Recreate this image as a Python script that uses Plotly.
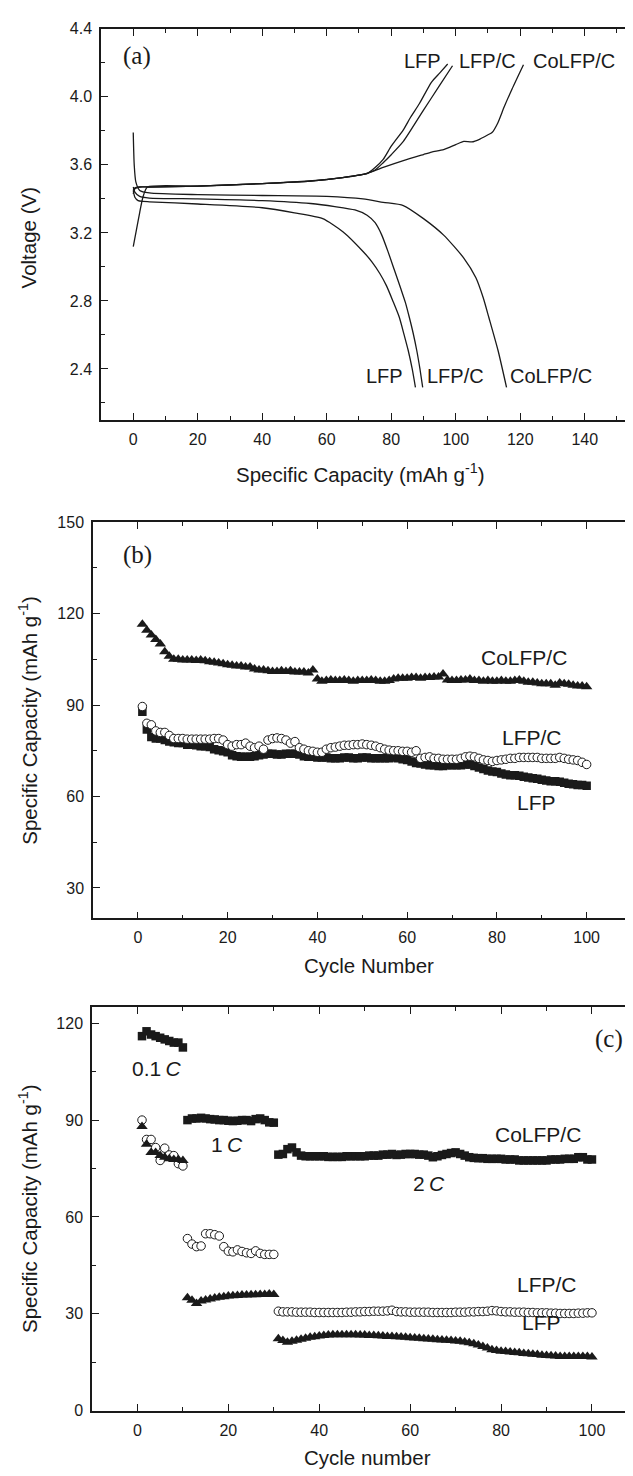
import plotly.graph_objects as go

# ---------------- Panel (a): charge / discharge curves ----------------
lfp_chg_cap = [0, 0.5, 2, 5, 20, 40, 55, 65, 70, 72.5, 75, 77.5, 80, 83.75, 86, 88.75, 92.5, 95, 97.5]
lfp_chg_v = [3.43, 3.46, 3.47, 3.47, 3.475, 3.49, 3.505, 3.525, 3.54, 3.548, 3.584, 3.632, 3.71, 3.806, 3.88, 3.961, 4.087, 4.14, 4.193]

lfpc_chg_cap = [0, 0.5, 2, 5, 20, 40, 55, 65, 70, 72.5, 75, 77.5, 80, 83.75, 90, 95, 99]
lfpc_chg_v = [3.45, 3.465, 3.47, 3.47, 3.475, 3.49, 3.505, 3.525, 3.54, 3.55, 3.57, 3.613, 3.66, 3.738, 3.922, 4.067, 4.183]

colfp_chg_cap = [0, 1, 2, 3, 4.4, 20, 40, 60, 70, 72.5, 77.5, 83.75, 90, 92.5, 96.25, 100, 102.5, 105, 107.5, 110, 111.25, 113, 115, 117.5, 121]
colfp_chg_v = [3.12, 3.22, 3.32, 3.41, 3.47, 3.475, 3.49, 3.515, 3.54, 3.55, 3.585, 3.625, 3.661, 3.675, 3.69, 3.719, 3.738, 3.735, 3.752, 3.777, 3.79, 3.845, 3.94, 4.048, 4.189]

lfp_dis_cap = [0, 0.5, 1.5, 3, 5, 20, 40, 50, 58.75, 65, 71.25, 74, 76.5, 78.5, 80.5, 82.5, 84, 85.25, 86.5, 87.5]
lfp_dis_v = [3.45, 3.41, 3.39, 3.385, 3.383, 3.37, 3.348, 3.318, 3.284, 3.207, 3.091, 3.03, 2.96, 2.89, 2.80, 2.704, 2.60, 2.51, 2.40, 2.292]

lfpc_dis_cap = [0, 0.5, 2, 5, 20, 40, 55, 62.5, 68.75, 72.5, 75, 77, 79, 81, 83, 84.4, 85.6, 86.8, 87.9, 88.9, 89.75]
lfpc_dis_v = [3.47, 3.44, 3.415, 3.405, 3.40, 3.39, 3.373, 3.355, 3.335, 3.304, 3.26, 3.19, 3.09, 2.98, 2.87, 2.79, 2.704, 2.61, 2.51, 2.40, 2.292]

colfp_dis_cap = [0, 0.3, 0.8, 2, 5, 20, 40, 60, 71.25, 77.5, 83.75, 90, 96.25, 102.5, 106.25, 108.5, 110.25, 113.1, 115.75]
colfp_dis_v = [3.79, 3.6, 3.5, 3.45, 3.435, 3.425, 3.42, 3.415, 3.40, 3.38, 3.361, 3.284, 3.187, 3.052, 2.936, 2.82, 2.704, 2.51, 2.292]

# ---------------- Panel (b): cycling at constant rate ----------------
cycles = list(range(1, 101))

b_colfp = [116.5, 114.5, 113, 111.5, 110, 107.5, 106, 105, 105, 104.8,
           104.8, 104.8, 104.6, 104.8, 104.5, 104.2, 104, 103.8, 103.5, 103.2,
           103, 102.8, 102.8, 102.5, 102.5, 101.8, 101.5, 101.5, 101.2, 101,
           101, 101.2, 101, 101.2, 100.8, 100.8, 100.8, 100.5, 101.5, 98.5,
           97.8, 98, 98.2, 98, 98, 98.2, 98, 97.8, 98, 98,
           98, 98.2, 98, 97.8, 97.8, 98, 98.5, 98.8, 98.8, 98.8,
           99, 99, 98.8, 99, 99, 99.2, 99.2, 100.2, 98.2, 98,
           98, 98.2, 98.2, 98.5, 98, 98, 97.8, 98, 97.8, 97.8,
           98, 97.8, 97.8, 98, 98.2, 97.8, 97.5, 97.5, 97.2, 97,
           97, 97, 96.5, 97.2, 97, 96.8, 96.5, 96.2, 96.2, 96]

b_lfpc = [89.5, 84, 83.5, 81.5, 81, 81, 80, 79, 79, 79,
          78.8, 78.8, 78.8, 78.8, 78.8, 78.8, 79, 79, 78.5, 77,
          76.5, 77, 77, 77.5, 76.5, 76, 76.5, 75.5, 78.5, 79,
          79.2, 79, 78.5, 77.5, 78, 76, 75.5, 75, 74.8, 74.5,
          74.5, 75.5, 76, 76.2, 76.5, 76.8, 76.8, 77, 77, 77.2,
          77, 76.8, 76.5, 76, 75.5, 75.2, 75, 75, 74.8, 74.8,
          74.5, 75, 72.5, 72.8, 73, 72.5, 72.5, 72.2, 72.2, 72.2,
          72.2, 72.5, 73, 73.2, 73, 72.5, 72, 71.8, 71.5, 71.8,
          72, 72.2, 72.5, 72.5, 72.8, 72.8, 72.8, 72.8, 72.8, 72.5,
          72.5, 72.5, 72.5, 72.8, 72.5, 72.2, 72, 71.8, 71.2, 70.5]

b_lfp = [87.8, 82, 79.5, 79, 79, 78.5, 78, 77.8, 77.5, 77.5,
         77, 77, 76.8, 76.5, 76.5, 76.2, 75.5, 75.2, 74.8, 74.5,
         73.5, 73.2, 73, 73, 73, 73.2, 73.5, 73.8, 74, 74,
         73.8, 73.8, 74, 74, 74, 73.8, 73.2, 73, 73, 72.8,
         72.8, 72.8, 72.5, 72.5, 72.5, 72.8, 72.8, 72.5, 72.5, 72.8,
         72.8, 72.5, 72.5, 72.5, 72.5, 72.5, 72.8, 72.5, 72.2, 72,
         71.5, 71, 70.8, 70.5, 70.2, 70.2, 70, 70, 70.2, 70.2,
         70.2, 70.2, 70.5, 70.5, 70, 69.5, 69, 68.5, 68.2, 68,
         67.5, 67.2, 67, 67, 66.8, 66.5, 66.2, 66, 65.8, 65.5,
         65.2, 65, 65, 64.8, 64.5, 64.2, 64, 63.8, 63.8, 63.5]

# ---------------- Panel (c): rate capability ----------------
c_colfp = [116, 117.5, 116.5, 116, 115.5, 115, 114.5, 114, 114, 112.5,
           90, 90.5, 90.5, 90.7, 90.5, 90.3, 90.2, 90, 90, 89.8,
           89.7, 89.8, 90, 90, 89.7, 90.3, 90.5, 90, 89.3, 89.2,
           79.3, 79.5, 81, 81.5, 80, 79, 78.8, 78.8, 78.8, 78.8,
           78.8, 78.6, 78.6, 78.6, 78.6, 78.8, 78.8, 78.8, 78.8, 78.8,
           79, 79, 79, 79.3, 79.3, 79.5, 79.2, 79.3, 79.5, 79.5,
           79.5, 79.3, 79.3, 79, 78.5, 78.8, 79.2, 79.5, 79.8, 80,
           79.5, 79, 78.5, 78.3, 78.2, 78.2, 78, 78, 78, 78,
           77.8, 77.8, 77.8, 77.5, 77.5, 77.5, 77.5, 77.5, 77.5, 77.5,
           77.8, 77.8, 77.8, 78, 78, 78, 78.5, 78.5, 77.8, 77.8]

c_lfpc = [90, 84, 84, 81.5, 77.5, 81.3, 79.2, 79, 76.5, 75.8,
          53.3, 51.6, 50.8, 51, 54.8, 54.8, 54.5, 54.1, 50.8, 49.4,
          49.2, 49.8, 49.3, 48.9, 48.7, 49.5, 48.7, 48.4, 48.4, 48.4,
          30.8, 30.6, 30.6, 30.6, 30.5, 30.5, 30.5, 30.5, 30.4, 30.4,
          30.4, 30.4, 30.4, 30.4, 30.4, 30.5, 30.5, 30.6, 30.6, 30.7,
          30.7, 30.8, 30.8, 30.8, 30.9, 31.1, 30.7, 30.6, 30.6, 30.5,
          30.5, 30.5, 30.5, 30.5, 30.4, 30.4, 30.4, 30.4, 30.4, 30.5,
          30.5, 30.5, 30.6, 30.6, 30.7, 30.7, 30.8, 31, 30.9, 30.7,
          30.6, 30.6, 30.5, 30.5, 30.5, 30.4, 30.4, 30.3, 30.3, 30.3,
          30.2, 30.2, 30.1, 30.1, 30.1, 30.1, 30.2, 30.2, 30.3, 30.3]

c_lfp = [88, 82.5, 80, 80, 79, 78.5, 78, 77.8, 77.8, 77.5,
         35, 34.2, 33.2, 34, 34.3, 34.6, 34.9, 35.1, 35.3, 35.5,
         35.6, 35.7, 35.8, 35.8, 35.9, 35.9, 36, 36, 36.1, 36,
         22.3, 21.7, 21.2, 21.5, 21.8, 22.1, 22.4, 22.7, 22.9, 23.1,
         23.3, 23.4, 23.5, 23.5, 23.5, 23.5, 23.5, 23.5, 23.4, 23.4,
         23.3, 23.3, 23.2, 23.1, 23, 23, 22.9, 22.8, 22.7, 22.6,
         22.5, 22.4, 22.3, 22.2, 22.1, 22, 21.9, 21.8, 21.7, 21.6,
         21.5, 21.3, 21, 20.7, 20.3, 19.9, 19.4, 18.9, 18.6, 18.4,
         18.3, 18.2, 18, 17.9, 17.7, 17.6, 17.5, 17.4, 17.2, 17.1,
         17, 16.9, 16.8, 16.8, 16.8, 16.8, 16.8, 16.8, 16.8, 16.6]

# page is offset by the default 8px body margin
PAGE_W, PAGE_H, OFF = 633, 1476, 8
W, H = PAGE_W - OFF, PAGE_H - OFF
SANS = "Liberation Sans, Arial, Helvetica, sans-serif"
SERIF = "Liberation Serif, Times New Roman, serif"
INK = "#1a1a1a"

fig = go.Figure()
line_style = dict(color=INK, width=1.3)
for cap, v in [(lfp_chg_cap, lfp_chg_v), (lfpc_chg_cap, lfpc_chg_v), (colfp_chg_cap, colfp_chg_v),
               (lfp_dis_cap, lfp_dis_v), (lfpc_dis_cap, lfpc_dis_v), (colfp_dis_cap, colfp_dis_v)]:
    fig.add_trace(go.Scatter(x=cap, y=v, mode="lines", line=dict(shape="spline", smoothing=0.6, **line_style),
                             xaxis="x", yaxis="y", showlegend=False))

sq = dict(symbol="square", size=8.5, color=INK)
tri = dict(symbol="triangle-up", size=10, color=INK)
circ = dict(symbol="circle", size=8.5, color="white", line=dict(color=INK, width=1))

fig.add_trace(go.Scatter(x=cycles, y=b_lfp, mode="markers", marker=sq, xaxis="x2", yaxis="y2", showlegend=False))
fig.add_trace(go.Scatter(x=cycles, y=b_lfpc, mode="markers", marker=circ, xaxis="x2", yaxis="y2", showlegend=False))
fig.add_trace(go.Scatter(x=cycles, y=b_colfp, mode="markers", marker=tri, xaxis="x2", yaxis="y2", showlegend=False))

fig.add_trace(go.Scatter(x=cycles, y=c_colfp, mode="markers", marker=sq, xaxis="x3", yaxis="y3", showlegend=False))
fig.add_trace(go.Scatter(x=cycles, y=c_lfpc, mode="markers", marker=circ, xaxis="x3", yaxis="y3", showlegend=False))
fig.add_trace(go.Scatter(x=cycles, y=c_lfp, mode="markers", marker=tri, xaxis="x3", yaxis="y3", showlegend=False))


def px_x(p):
    return min(1.0, (p - OFF) / W)


def px_y(p):
    return 1 - (p - OFF) / H


def axis(domain, rng, dtick, minor_dtick, anchor, fmt=None):
    d = dict(domain=domain, range=rng, dtick=dtick, tick0=0, anchor=anchor,
             showline=True, linecolor=INK, linewidth=1.5, mirror="allticks",
             ticks="inside", ticklen=7, tickwidth=1.3, tickcolor=INK,
             minor=dict(dtick=minor_dtick, tick0=0, ticks="inside", ticklen=4, tickwidth=1.2, tickcolor=INK),
             showgrid=False, zeroline=False,
             tickfont=dict(family=SANS, size=16, color=INK), ticklabelstandoff=4)
    if fmt:
        d["tickformat"] = fmt
    return d


R = 631.5
fig.update_layout(
    width=W, height=H, margin=dict(l=0, r=0, t=0, b=0),
    paper_bgcolor="white", plot_bgcolor="white",
    xaxis=axis([px_x(101), px_x(R)], [-10, 154.5], 20, 10, "y"),
    yaxis=axis([px_y(416.7), px_y(21)], [2.1, 4.4], 0.4, 0.2, "x", ".1f"),
    xaxis2=axis([px_x(93), px_x(R)], [-10, 110], 20, 10, "y2"),
    yaxis2=axis([px_y(921), px_y(520)], [20, 150], 30, 15, "x2"),
    xaxis3=axis([px_x(92), px_x(R)], [-10, 108.7], 20, 10, "y3"),
    yaxis3=axis([px_y(1419), px_y(1010.7)], [0, 125], 30, 15, "x3"),
)

ann = []


def label(text, x, y, xref, yref, size=21, family=SANS, **kw):
    ann.append(dict(text=text, x=x, y=y, xref=xref, yref=yref, showarrow=False,
                    xanchor="center", yanchor="middle",
                    font=dict(family=family, size=size, color=INK), **kw))


TS = "\u2009"
# panel (a)
label("(a)", 1.25, 4.24, "x", "y", size=25, family=SERIF)
label("LFP", 89.6, 4.213, "x", "y", size=20)
label("LFP/C", 110, 4.213, "x", "y", size=20)
label("CoLFP/C", 136.75, 4.213, "x", "y", size=20)
label("LFP", 78, 2.361, "x", "y", size=20)
label("LFP/C", 99.9, 2.361, "x", "y", size=20)
label("CoLFP/C", 129.6, 2.361, "x", "y", size=20)
# panel (b)
label("(b)", 0, 139.2, "x2", "y2", size=25, family=SERIF)
label("CoLFP/C", 86, 105.5, "x2", "y2")
label("LFP/C", 87.9, 79.5, "x2", "y2")
label("LFP", 88.8, 58.1, "x2", "y2")
# panel (c)
label("(c)", 103.7, 115, "x3", "y3", size=25, family=SERIF)
label("0.1" + TS + "<i>C</i>", 4.1, 106, "x3", "y3")
label("1" + TS + "<i>C</i>", 19.8, 82.4, "x3", "y3")
label("CoLFP/C", 88.2, 85.4, "x3", "y3")
label("2" + TS + "<i>C</i>", 64.2, 70.5, "x3", "y3")
label("LFP/C", 90, 39, "x3", "y3")
label("LFP", 88.8, 27.3, "x3", "y3")

# axis titles
label("Specific Capacity (mAh g<sup>-1</sup>)", 70.4, px_y(470), "x", "paper", size=20.5)
label("Cycle Number", 51.5, px_y(969), "x2", "paper", size=20.5)
label("Cycle number", 50.6, px_y(1466.7), "x3", "paper", size=20.5)
label("Voltage (V)", px_x(28), px_y(233), "paper", "paper", size=20.5, textangle=-90)
label("Specific Capacity (mAh g<sup>-1</sup>)", px_x(28), px_y(721), "paper", "paper", size=20.5, textangle=-90)
label("Specific Capacity (mAh g<sup>-1</sup>)", px_x(28), px_y(1215), "paper", "paper", size=20.5, textangle=-90)

fig.update_layout(annotations=ann)
fig.write_html("out.html")
